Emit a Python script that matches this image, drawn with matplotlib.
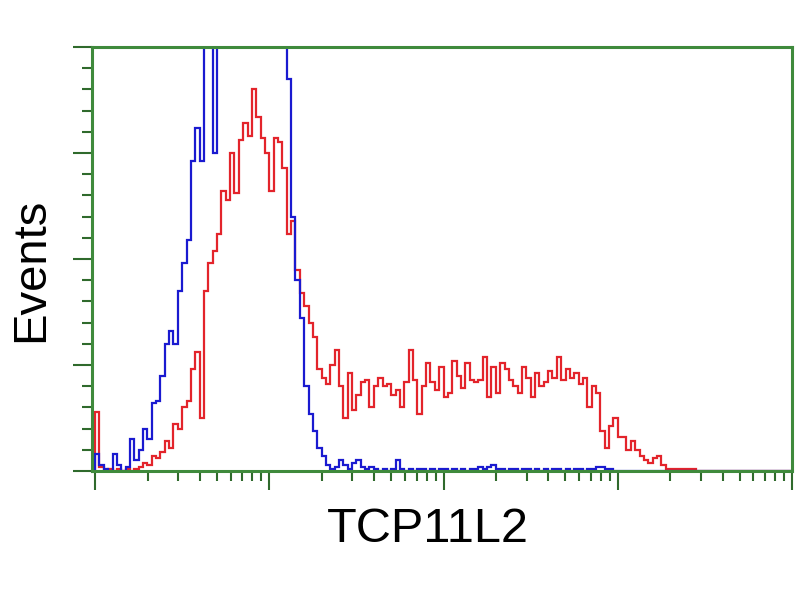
# Flow cytometry histogram: TCP11L2 vs control
import numpy as np
import matplotlib
matplotlib.use('Agg')
import matplotlib.pyplot as plt
from matplotlib.ticker import LogLocator, MultipleLocator, NullFormatter

# 160 channels, 40 per decade, over 4 log decades
n_per_decade = 40
decades = 4

# red: TCP11L2 stained cells (events per channel)
red_counts = [
    28, 2, 0, 1, 0, 1, 0, 1, 0, 1,
    2, 4, 3, 7, 6, 9, 14, 11, 22, 20,
    30, 33, 48, 56, 25, 85, 98, 104, 112, 132,
    128, 150, 131, 156, 164, 158, 180, 167, 157, 150,
    132, 157, 155, 143, 112, 118, 95, 84, 78, 70,
    63, 48, 44, 41, 50, 57, 40, 25, 46, 29,
    36, 42, 43, 30, 40, 44, 40, 41, 36, 38,
    30, 42, 57, 43, 27, 40, 51, 42, 38, 49,
    35, 37, 52, 45, 39, 51, 43, 42, 43, 54,
    35, 49, 37, 51, 48, 43, 40, 37, 49, 44,
    35, 46, 40, 42, 47, 44, 54, 43, 48, 44,
    46, 41, 44, 30, 40, 37, 19, 11, 21, 25,
    16, 16, 10, 14, 10, 7, 5, 4, 6, 7,
    3, 1, 1, 1, 1, 1, 1, 1, 0, 0,
    0, 0, 0, 0, 0, 0, 0, 0, 0, 0,
    0, 0, 0, 0, 0, 0, 0, 0, 0, 0,
]

# blue: negative control (peak runs off the top of the plot)
blue_counts = [
    8, 3, 1, 0, 8, 3, 0, 2, 15, 5,
    10, 20, 15, 32, 33, 45, 60, 66, 60, 85,
    98, 109, 146, 162, 146, 230, 240, 150, 280, 280,
    280, 280, 280, 280, 280, 280, 280, 280, 280, 280,
    280, 280, 280, 230, 185, 120, 90, 72, 40, 27,
    19, 11, 7, 3, 1, 2, 5, 3, 1, 4,
    5, 2, 1, 2, 1, 0, 1, 0, 1, 5,
    1, 0, 1, 0, 1, 1, 0, 1, 0, 1,
    1, 0, 1, 0, 1, 0, 1, 1, 2, 1,
    2, 3, 1, 1, 0, 1, 1, 0, 1, 1,
    0, 1, 0, 1, 0, 1, 1, 0, 1, 0,
    1, 1, 0, 1, 1, 2, 2, 1, 1, 0,
    0, 0, 0, 0, 0, 0, 0, 0, 0, 0,
    0, 0, 0, 0, 0, 0, 0, 0, 0, 0,
    0, 0, 0, 0, 0, 0, 0, 0, 0, 0,
    0, 0, 0, 0, 0, 0, 0, 0, 0, 0,
]

x_label = "TCP11L2"
y_label = "Events"

edges = 10 ** (np.arange(n_per_decade * decades + 1) / n_per_decade)

green = '#3f8a3c'
tick_green = '#2f6a2c'

fig = plt.figure(figsize=(8, 6), dpi=100)
ax = fig.add_axes([0.115, 0.215, 0.875, 0.7067])

ax.stairs(red_counts, edges, color='#e3242b', linewidth=1.6)
ax.stairs(blue_counts, edges, color='#1a1ad0', linewidth=1.6)

ax.set_xscale('log')
ax.set_xlim(0.96, 10 ** decades)
ax.set_ylim(0, 200)

ax.xaxis.set_major_locator(LogLocator(base=10))
ax.xaxis.set_minor_locator(LogLocator(base=10, subs=np.arange(2, 10)))
ax.xaxis.set_major_formatter(NullFormatter())
ax.xaxis.set_minor_formatter(NullFormatter())
ax.yaxis.set_major_locator(MultipleLocator(50))
ax.yaxis.set_minor_locator(MultipleLocator(10))
ax.yaxis.set_major_formatter(NullFormatter())

for s in ax.spines.values():
    s.set_color(green)
    s.set_linewidth(2.2)

ax.tick_params(axis='both', which='major', direction='out', length=14,
               width=1.5, color=tick_green)
ax.tick_params(axis='both', which='minor', direction='out', length=7,
               width=1.5, color=tick_green)

fig.text(428 / 800, 1 - 530 / 600, x_label, fontsize=35,
         family='Liberation Sans', ha='center', va='center')
fig.text(31 / 800, 1 - 270 / 600, y_label, fontsize=34,
         family='Liberation Sans', ha='center', va='center', rotation=90)

fig.savefig('out.png', dpi=100)
